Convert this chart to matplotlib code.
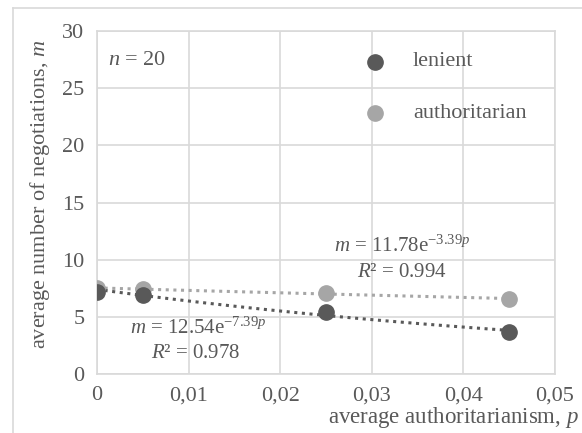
import numpy as np
import matplotlib
matplotlib.use("Agg")
import matplotlib.pyplot as plt
from matplotlib.lines import Line2D

plt.rcParams['font.family'] = 'Liberation Serif'
plt.rcParams['mathtext.fontset'] = 'custom'
plt.rcParams['mathtext.rm'] = 'Liberation Serif'
plt.rcParams['mathtext.it'] = 'Liberation Serif:italic'

# data
p = [0, 0.005, 0.025, 0.045]
lenient = [7.2, 6.9, 5.4, 3.7]
authoritarian = [7.5, 7.4, 7.1, 6.55]
xticks = [0, 0.01, 0.02, 0.03, 0.04, 0.05]
xtick_labels = ['0', '0,01', '0,02', '0,03', '0,04', '0,05']
yticks = [0, 5, 10, 15, 20, 25, 30]

dark = '#595959'
light = '#a6a6a6'
grid = '#d9d9d9'
txt = '#595959'
fs = 16

fig = plt.figure(figsize=(5.82, 4.33), dpi=100)
ax = fig.add_axes([97/582, 1-374/433, (555-97)/582, (374-31)/433])

# exponential trendlines (fit like a spreadsheet does)
xs = np.linspace(0, 0.045, 50)
for vals, c in [(authoritarian, light), (lenient, dark)]:
    b, a = np.polyfit(p, np.log(vals), 1)
    ax.plot(xs, np.exp(a) * np.exp(b * xs), ls=(0, (1, 1.5)), lw=2.2, color=c, zorder=2)

ax.plot(p, authoritarian, 'o', ms=11, color=light, zorder=3, label='authoritarian')
ax.plot(p, lenient, 'o', ms=11, color=dark, zorder=4, label='lenient')

ax.set_xlim(0, 0.05)
ax.set_ylim(0, 30)
ax.set_xticks(xticks)
ax.set_xticklabels(xtick_labels)
ax.set_yticks(yticks)
ax.grid(True, color=grid, lw=1.2)
ax.set_axisbelow(True)
for s in ax.spines.values():
    s.set_color(grid)
    s.set_linewidth(1.2)
ax.tick_params(length=0, labelsize=fs, colors=txt, pad=9)

# legend drawn by hand
ax.plot([0.0304], [27.3], 'o', ms=11, color=dark, clip_on=False)
ax.text(0.0345, 27.3, 'lenient', fontsize=fs, color=txt, va='center')
ax.plot([0.0304], [22.8], 'o', ms=11, color=light, clip_on=False)
ax.text(0.0345, 22.8, 'authoritarian', fontsize=fs, color=txt, va='center')

ax.text(0.0012, 27.4, r'$n$ = 20', fontsize=fs, color=txt, va='center')

ax.text(0.0333, 11.2, r'$m$ = 11.78e$^{\mathit{-3.39p}}$', fontsize=15, color=txt, ha='center', va='center')
ax.text(0.0333, 8.9, r'$R$² = 0.994', fontsize=15, color=txt, ha='center', va='center')
ax.text(0.0111, 4.0, r'$m$ = 12.54e$^{\mathit{-7.39p}}$', fontsize=15, color=txt, ha='center', va='center')
ax.text(0.0108, 1.8, r'$R$² = 0.978', fontsize=15, color=txt, ha='center', va='center')

fig.text(40/582, 1-194/433, r'average number of negotiations, $m$', rotation=90,
         fontsize=fs, color=txt, ha='center', va='center')
fig.text(328/582, 1-418/433, r'average authoritarianism, $p$', fontsize=16.5, color=txt,
         ha='left', va='center')

# outer chart frame
fig.add_artist(Line2D([13/582, 13/582], [0, 1-8/433], color=grid, lw=1.2, transform=fig.transFigure))
fig.add_artist(Line2D([13/582, 1], [1-8/433, 1-8/433], color=grid, lw=1.2, transform=fig.transFigure))

fig.savefig('out.png', dpi=100)
